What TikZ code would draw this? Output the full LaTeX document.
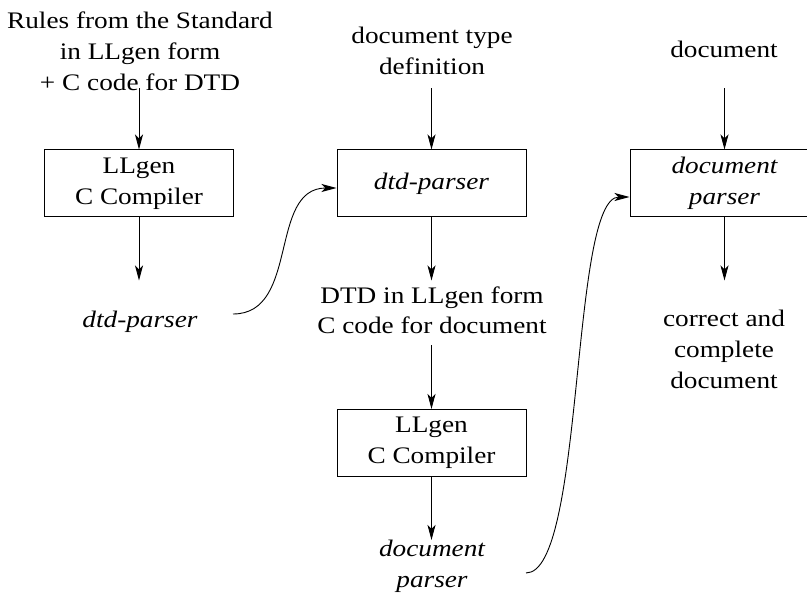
\documentclass[tikz,border=0pt]{standalone}
\usepackage{fontspec}
\setmainfont{Liberation Serif}[FakeStretch=1.15]
\usetikzlibrary{arrows.meta}
\begin{document}
\begin{tikzpicture}[x=1pt,y=-1pt,
  every node/.style={font=\fontsize{23.7}{31}\selectfont, align=center, inner sep=0pt},
  lbl/.style={anchor=base},
  box/.style={draw, line width=1pt, minimum width=189pt, minimum height=67pt, inner sep=2pt},
  flow/.style={line width=0.9pt, -{Stealth[length=15pt,width=8pt,inset=4pt]}}]
\useasboundingbox (0,0) rectangle (807,599);
\begin{scope}
\clip (0,0) rectangle (807,599);
% column 1 (anchor base = baseline of the last line)
\node[lbl] (t1) at (140,91) {Rules from the Standard\\in LLgen form\\+ C code for DTD};
\node[box] (b1) at (139,183.5) {LLgen\\C Compiler};
\node[lbl] (o1) at (140,327) {\itshape dtd-parser};
% column 2
\node[lbl] (t2) at (432,75) {document type\\definition};
\node[box] (b2) at (431.5,183.5) {\itshape dtd-parser};
\node[lbl] (m2) at (432,334) {DTD in LLgen form\\C code for document};
\node[box] (b3) at (431.5,443) {LLgen\\C Compiler};
\node[lbl] (o3) at (432,587) {\itshape document\\\itshape parser};
% column 3
\node[lbl] (t3) at (724,58) {document};
\node[box] (b4) at (724.5,183.5) {\itshape document\\\itshape parser};
\node[lbl] (o4) at (724,388) {correct and\\complete\\document};
\end{scope}
% straight connectors
\draw[flow] ([yshift=61pt]b1.north) -- (b1.north);
\draw[flow] (b1.south) -- ([yshift=-63pt]b1.south);
\draw[flow] ([yshift=61pt]b2.north) -- (b2.north);
\draw[flow] (b2.south) -- ([yshift=-63pt]b2.south);
\draw[flow] ([yshift=64pt]b3.north) -- (b3.north);
\draw[flow] (b3.south) -- ([yshift=-63pt]b3.south);
\draw[flow] ([yshift=61pt]b4.north) -- (b4.north);
\draw[flow] (b4.south) -- ([yshift=-63pt]b4.south);
% curved connectors
\coordinate (c1) at (233,314);
\coordinate (c3) at (526,573);
\draw[flow] (c1) .. controls (300,314) and (268,188) .. ([yshift=-4.5pt]b2.west);
\draw[flow] (c3) .. controls (585,573) and (570,197) .. ([yshift=-13.5pt]b4.west);
\end{tikzpicture}
\end{document}
